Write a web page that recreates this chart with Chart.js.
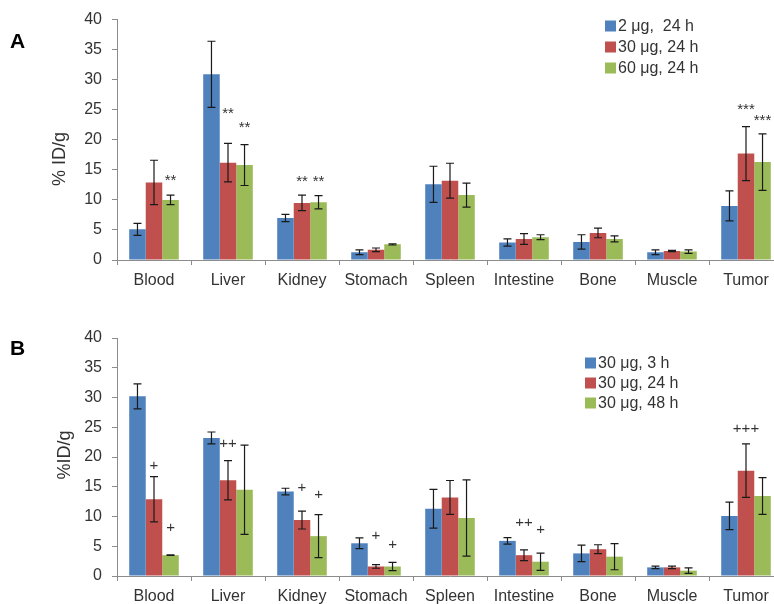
<!DOCTYPE html>
<html>
<head>
<meta charset="utf-8">
<script src="https://cdn.jsdelivr.net/npm/chart.js@4/dist/chart.umd.min.js"></script>
<style>
  html, body { margin: 0; padding: 0; background: #fff; overflow: hidden; width: 774px; height: 604px; }
  #wrap { position: relative; width: 774px; height: 604px; overflow: hidden; }
  canvas { position: absolute; left: 0; }
  #chartA { top: 0; }
  #chartB { top: 300px; }
</style>
</head>
<body>
<div id="wrap">
  <canvas id="chartA" width="790" height="300"></canvas>
  <canvas id="chartB" width="790" height="316"></canvas>
</div>
<script>
// Organs on the x axis (shared by both panels)
const organs = ['Blood', 'Liver', 'Kidney', 'Stomach', 'Spleen', 'Intestine', 'Bone', 'Muscle', 'Tumor'];

// Panel A: dose comparison at 24 h (mean %ID/g and SD)
const seriesA = ['2 μg,  24 h', '30 μg, 24 h', '60 μg, 24 h'];
const dose2_24  = [5.1, 30.9, 7.0, 1.3, 12.6, 2.9, 3.0, 1.3, 9.0];
const dose2_24Sd  = [1.0, 5.5, 0.6, 0.4, 3.0, 0.6, 1.2, 0.4, 2.5];
const dose30_24 = [12.9, 16.2, 9.5, 1.7, 13.2, 3.5, 4.5, 1.5, 17.7];
const dose30_24Sd = [3.7, 3.2, 1.3, 0.3, 2.9, 0.9, 0.8, 0.1, 4.5];
const dose60_24 = [10.0, 15.8, 9.6, 2.6, 10.8, 3.8, 3.5, 1.4, 16.3];
const dose60_24Sd = [0.8, 3.4, 1.1, 0.1, 2.0, 0.4, 0.5, 0.3, 4.7];
// Significance marks A: [organ index, series index, text, height in %ID/g]
const marksA = [
  [0, 2, '**', 13.9],
  [1, 1, '**', 24.9],
  [1, 2, '**', 22.6],
  [2, 1, '**', 13.6],
  [2, 2, '**', 13.6],
  [8, 1, '***', 25.6],
  [8, 2, '***', 23.8]
];

// Panel B: time course at 30 μg
const seriesB = ['30 μg, 3 h', '30 μg, 24 h', '30 μg, 48 h'];
const t3h  = [30.2, 23.2, 14.2, 5.5, 11.3, 5.9, 3.8, 1.45, 10.1];
const t3hSd  = [2.1, 1.0, 0.55, 0.9, 3.25, 0.55, 1.4, 0.2, 2.3];
const t24h = [12.9, 16.1, 9.4, 1.6, 13.2, 3.5, 4.5, 1.45, 17.7];
const t24hSd = [3.8, 3.3, 1.5, 0.3, 2.85, 0.9, 0.75, 0.2, 4.5];
const t48h = [3.5, 14.5, 6.7, 1.6, 9.75, 2.4, 3.25, 0.9, 13.45];
const t48hSd = [0.05, 7.5, 3.6, 0.7, 6.4, 1.45, 2.2, 0.45, 3.1];
const marksB = [
  [0, 1, '+', 18.5],
  [0, 2, '+', 8.1],
  [1, 1, '++', 22.2],
  [2, 1, '+', 14.8],
  [2, 2, '+', 13.6],
  [3, 1, '+', 6.8],
  [3, 2, '+', 5.3],
  [5, 1, '++', 8.9],
  [5, 2, '+', 7.7],
  [8, 1, '+++', 24.8]
];

const yMax = 40;
const yStep = 5;

const COLORS = ['#4F81BD', '#C0504D', '#9BBB59'];
const FONT = 'Liberation Sans, Arial, sans-serif';
const TEXT = '#333333';
const AXIS = '#8c8c8c';

// Error bars, significance marks, legend, axis title and panel letter
function decorations(cfg) {
  return {
    id: 'decor_' + cfg.letter,
    afterDatasetsDraw(chart) {
      const ctx = chart.ctx;
      const y = chart.scales.y;
      ctx.save();
      // error bars
      ctx.strokeStyle = '#1a1a1a';
      ctx.lineWidth = 1.2;
      chart.data.datasets.forEach((ds, di) => {
        const meta = chart.getDatasetMeta(di);
        ds.data.forEach((v, i) => {
          const e = cfg.errors[di][i];
          const x = meta.data[i].x;
          const yt = y.getPixelForValue(v + e);
          const yb = y.getPixelForValue(v - e);
          ctx.beginPath();
          ctx.moveTo(x, yt); ctx.lineTo(x, yb);
          ctx.moveTo(x - 4, yt); ctx.lineTo(x + 4, yt);
          ctx.moveTo(x - 4, yb); ctx.lineTo(x + 4, yb);
          ctx.stroke();
        });
      });
      // significance marks
      ctx.fillStyle = TEXT;
      ctx.textAlign = 'center';
      ctx.textBaseline = 'middle';
      cfg.marks.forEach(([i, di, txt, level]) => {
        const x = chart.getDatasetMeta(di).data[i].x;
        const star = txt.indexOf('*') >= 0;
        ctx.font = '15px ' + FONT;
        const yy = y.getPixelForValue(level) + (star ? 4 : 0);
        ctx.fillText(txt, x, yy);
      });
      // legend
      ctx.textAlign = 'left';
      ctx.font = '16px ' + FONT;
      chart.data.datasets.forEach((ds, di) => {
        const ry = cfg.legend.y + di * cfg.legend.step;
        ctx.fillStyle = ds.backgroundColor;
        ctx.fillRect(cfg.legend.x, ry - 5.5, 11, 11);
        ctx.fillStyle = TEXT;
        ctx.fillText(ds.label, cfg.legend.x + 13, ry + 0.5);
      });
      // y axis title
      ctx.save();
      ctx.translate(cfg.title.x, cfg.title.y);
      ctx.rotate(-Math.PI / 2);
      ctx.textAlign = 'center';
      ctx.font = '18px ' + FONT;
      ctx.fillText(cfg.title.text, 0, 0);
      ctx.restore();
      // panel letter
      ctx.textAlign = 'left';
      ctx.textBaseline = 'alphabetic';
      ctx.fillStyle = '#000';
      ctx.font = 'bold 21px ' + FONT;
      ctx.fillText(cfg.letter, 10, cfg.letterY);
      ctx.restore();
    }
  };
}

function buildChart(id, names, values, errors, marks, topPad, legend, title, letter, letterY) {
  const datasets = values.map((vals, i) => ({
    label: names[i],
    data: vals,
    backgroundColor: COLORS[i],
    borderWidth: 0,
    categoryPercentage: 0.67,
    barPercentage: 1.0
  }));
  return new Chart(document.getElementById(id), {
    type: 'bar',
    data: { labels: organs, datasets },
    options: {
      responsive: false,
      animation: false,
      devicePixelRatio: 1,
      layout: { padding: { top: topPad, right: 7, left: 0, bottom: 0 } },
      plugins: { legend: { display: false }, tooltip: { enabled: false } },
      scales: {
        x: {
          grid: { display: true, drawOnChartArea: false, drawTicks: true, tickLength: 5, color: AXIS, offset: true },
          border: { display: true, color: AXIS, width: 1 },
          ticks: { color: TEXT, font: { family: FONT, size: 16 }, padding: 6, maxRotation: 0, autoSkip: false },
          afterFit(s) { s.height = 40; }
        },
        y: {
          min: 0, max: yMax,
          grid: { display: true, drawOnChartArea: false, drawTicks: true, tickLength: 5, color: AXIS },
          border: { display: true, color: AXIS, width: 1 },
          ticks: { stepSize: yStep, color: TEXT, font: { family: FONT, size: 16 }, padding: 10 },
          afterFit(s) { s.width = 117; }
        }
      }
    },
    plugins: [decorations({ errors, marks, legend, title, letter, letterY })]
  });
}

buildChart('chartA', seriesA,
  [dose2_24, dose30_24, dose60_24],
  [dose2_24Sd, dose30_24Sd, dose60_24Sd],
  marksA, 19,
  { x: 605, y: 26, step: 21 },
  { x: 60, y: 159, text: '% ID/g' },
  'A', 48);

buildChart('chartB', seriesB,
  [t3h, t24h, t48h],
  [t3hSd, t24hSd, t48hSd],
  marksB, 38,
  { x: 585, y: 63, step: 20 },
  { x: 65, y: 155, text: '%ID/g' },
  'B', 55);
</script>
</body>
</html>
